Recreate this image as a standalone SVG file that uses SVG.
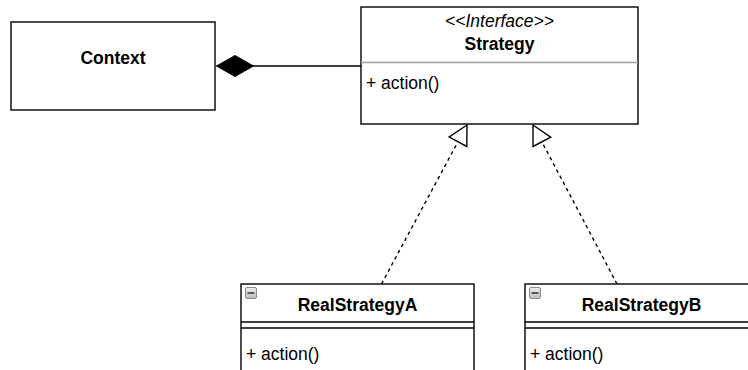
<svg xmlns="http://www.w3.org/2000/svg" width="748" height="370" viewBox="0 0 748 370">
  <defs>
    <style>
      .box { fill: #ffffff; stroke: #000000; stroke-width: 1.4; }
      .sep { stroke: #000000; stroke-width: 1.4; }
      .sep-grey { stroke: #a0a0a0; stroke-width: 1.4; }
      .title { font-family: "Liberation Sans", Arial, sans-serif; font-size: 17.5px; font-weight: bold; fill: #000; text-anchor: middle; }
      .stereo { font-family: "Liberation Sans", Arial, sans-serif; font-size: 17.5px; font-style: italic; fill: #000; text-anchor: middle; }
      .member { font-family: "Liberation Sans", Arial, sans-serif; font-size: 17.5px; fill: #000; }
      .link { fill: none; stroke: #000000; stroke-width: 1.4; }
      .dashed { stroke-dasharray: 3.5 3.5; }
      .toggle { fill: url(#toggleFill); stroke: #8a8a8a; stroke-width: 1; }
      .toggle-bar { stroke: #5a5a5a; stroke-width: 2; }
    </style>
    <linearGradient id="toggleFill" x1="0" y1="0" x2="0" y2="1">
      <stop offset="0" stop-color="#eeeeee"/>
      <stop offset="1" stop-color="#bdbdbd"/>
    </linearGradient>
    <!-- hollow triangle for realization -->
    <marker id="realize" markerUnits="userSpaceOnUse" viewBox="-21 -12 23 24" markerWidth="23" markerHeight="24" refX="0" refY="0" orient="auto">
      <path d="M0,0 L-19,-10 L-19,10 Z" fill="#ffffff" stroke="#000000" stroke-width="1.4"/>
    </marker>
    <!-- filled diamond for composition -->
    <marker id="compose" markerUnits="userSpaceOnUse" viewBox="-40 -12 42 24" markerWidth="42" markerHeight="24" refX="0" refY="0" orient="auto">
      <path d="M0,0 L-18.5,-10.5 L-37,0 L-18.5,10.5 Z" fill="#000000" stroke="#000000" stroke-width="1"/>
    </marker>
  </defs>

  <!-- connectors -->
  <g id="connectors">
    <path class="link" d="M361,66 L216.5,66" marker-end="url(#compose)"/>
    <path class="link dashed" d="M381.5,284 L467,125" marker-end="url(#realize)"/>
    <path class="link dashed" d="M617,284 L533,125" marker-end="url(#realize)"/>
  </g>

  <!-- Context -->
  <g id="context">
    <rect class="box" x="11" y="22" width="204" height="88"/>
    <text class="title" x="113" y="64">Context</text>
  </g>

  <!-- Strategy interface -->
  <g id="strategy">
    <rect class="box" x="361" y="7" width="277" height="117"/>
    <text class="stereo" x="499.5" y="27">&lt;&lt;Interface&gt;&gt;</text>
    <text class="title" x="499.5" y="50">Strategy</text>
    <line class="sep-grey" x1="361" y1="62.5" x2="638" y2="62.5"/>
    <text class="member" x="366" y="89">+ action()</text>
  </g>

  <!-- RealStrategyA -->
  <g id="realStrategyA">
    <rect class="box" x="241" y="284" width="233" height="100"/>
    <line class="sep" x1="241" y1="322" x2="474" y2="322"/>
    <line class="sep" x1="241" y1="328" x2="474" y2="328"/>
    <rect class="toggle" x="245.5" y="287.5" width="11" height="11" rx="1.5"/>
    <line class="toggle-bar" x1="247.5" y1="293" x2="254.5" y2="293"/>
    <text class="title" x="357.5" y="311">RealStrategyA</text>
    <text class="member" x="246" y="360">+ action()</text>
  </g>

  <!-- RealStrategyB -->
  <g id="realStrategyB">
    <rect class="box" x="525" y="284" width="233" height="100"/>
    <line class="sep" x1="525" y1="322" x2="758" y2="322"/>
    <line class="sep" x1="525" y1="328" x2="758" y2="328"/>
    <rect class="toggle" x="529.5" y="287.5" width="11" height="11" rx="1.5"/>
    <line class="toggle-bar" x1="531.5" y1="293" x2="538.5" y2="293"/>
    <text class="title" x="641.5" y="311">RealStrategyB</text>
    <text class="member" x="530" y="360">+ action()</text>
  </g>
</svg>
